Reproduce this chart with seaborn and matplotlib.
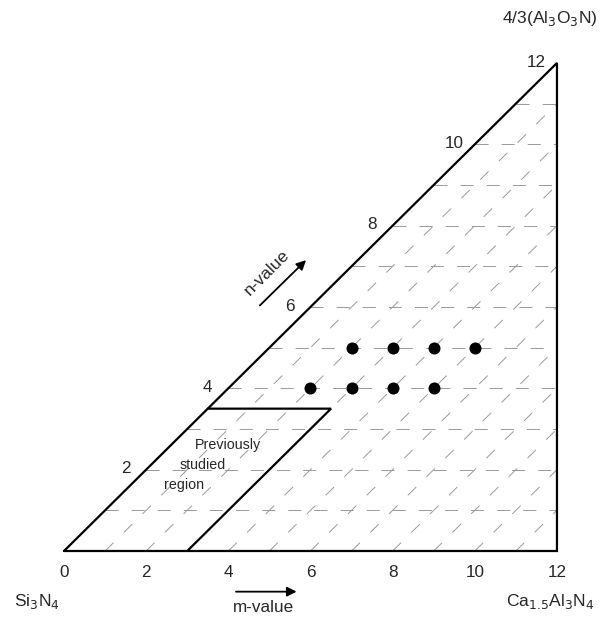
import numpy as np
import pandas as pd
import matplotlib
matplotlib.use("Agg")
import matplotlib.pyplot as plt
import seaborn as sns

sns.set_style("white")
plt.rcParams['font.family'] = ['Liberation Sans', 'DejaVu Sans']
plt.rcParams['lines.scale_dashes'] = False

# ==============================
# Data
# ==============================
# compositions studied (m, n)
m_points = [6, 7, 8, 9, 7, 8, 9, 10]
n_points = [4, 4, 4, 4, 5, 5, 5, 5]

# outer triangle Si3N4 - Ca1.5Al3N4 - 4/3(Al3O3N)
triangle_m = [0, 12, 12, 0]
triangle_n = [0, 0, 12, 0]

# previously studied region boundary
region_m = [3.5, 6.5, 3.0]
region_n = [3.5, 3.5, 0.0]

grid_levels = list(range(1, 12))
m_ticks = [0, 2, 4, 6, 8, 10, 12]
n_ticks = [2, 4, 6, 8, 10, 12]

df = pd.DataFrame({"m": m_points, "n": n_points})

# ==============================
# Figure
# ==============================
fig = plt.figure(figsize=(6.13, 6.17), dpi=100)
ax = fig.add_axes([0, 0, 1, 1])

grey = "#999999"
# horizontal dashed lines (constant n)
for k in grid_levels:
    ax.plot([k, 12], [k, k], color=grey, lw=0.7, dashes=(9.4, 9.4), zorder=1)
# diagonal dashed lines (constant m - n)
for k in grid_levels:
    ax.plot([k, 12], [0, 12 - k], color=grey, lw=0.7, dashes=(8.5, 10.5), zorder=1)

# triangle and region
ax.plot(triangle_m, triangle_n, color="black", lw=1.6, solid_joinstyle="miter", zorder=3)
ax.plot(region_m, region_n, color="black", lw=1.6, solid_joinstyle="miter", zorder=3)

# points
sns.scatterplot(data=df, x="m", y="n", ax=ax, color="black", s=75,
                edgecolor="black", linewidth=0, zorder=4, legend=False)
ax.set_xlim(-1.558, 13.364)
ax.set_ylim(-1.623, 13.548)
ax.axis("off")

fs = 12.3
for t in m_ticks:
    ax.text(t, -0.52, str(t), ha="center", va="center", fontsize=fs)
for t in n_ticks:
    ax.text(t - 0.5, t + 0.02, str(t), ha="center", va="center", fontsize=fs)

# corner labels
ax.text(-0.66, -1.25, r"Si$_3$N$_4$", ha="center", va="center", fontsize=fs + 0.3)
ax.text(11.83, -1.25, r"Ca$_{1.5}$Al$_3$N$_4$", ha="center", va="center", fontsize=fs + 0.3)
ax.text(11.83, 13.1, r"4/3(Al$_3$O$_3$N)", ha="center", va="center", fontsize=fs + 0.3)

# m-value arrow
ax.annotate("", xy=(5.73, -1.0), xytext=(4.12, -1.0),
            arrowprops=dict(arrowstyle="-|>", color="black", lw=1.3, mutation_scale=14))
ax.text(4.85, -1.38, "m-value", ha="center", va="center", fontsize=fs)

# n-value arrow
ax.annotate("", xy=(5.94, 7.2), xytext=(4.72, 5.99),
            arrowprops=dict(arrowstyle="-|>", color="black", lw=1.3, mutation_scale=14))
ax.text(4.94, 6.85, "n-value", ha="center", va="center", fontsize=fs + 0.3, rotation=45)

# region label
ax.text(3.99, 2.6, "Previously", ha="center", va="center", fontsize=10.3)
ax.text(3.38, 2.11, "studied", ha="center", va="center", fontsize=10.3)
ax.text(2.92, 1.62, "region", ha="center", va="center", fontsize=10.3)

fig.savefig("out.png", dpi=100, facecolor="white")
